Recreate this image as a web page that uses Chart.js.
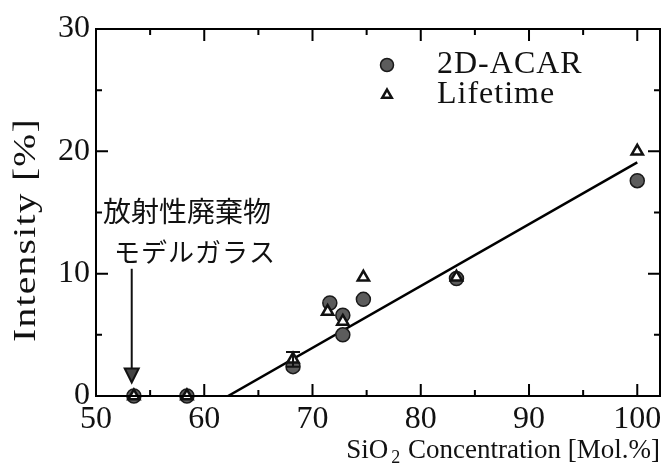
<!DOCTYPE html>
<html><head><meta charset="utf-8">
<script src="https://cdn.jsdelivr.net/npm/chart.js@4/dist/chart.umd.min.js"></script>
<style>html,body{margin:0;padding:0;background:#fff;}#wrap{width:669px;height:469px;position:relative;}</style>
</head><body><div id="wrap"><canvas id="c" width="669" height="469"></canvas></div>
<script>
// ---- data ----
const acarX = [53.5, 58.4, 68.2, 71.6, 72.8, 72.8, 74.7, 83.3, 100];
const acarY = [0, 0, 2.4, 7.6, 6.6, 5.0, 7.9, 9.6, 17.6];
const lifeX = [53.5, 58.4, 68.2, 71.4, 72.8, 74.7, 83.3, 100];
const lifeY = [0, 0, 3.0, 6.9, 6.1, 9.7, 9.7, 20.0];
const errX = [68.2];
const errLow = [2.4];
const errHigh = [3.6];
const fitX = [62.2, 100];
const fitY = [0, 19.1];
const arrowX = 53.3;
const arrowFrom = 10.4;
const arrowTo = 1.1;
const xTickLabels = [50, 60, 70, 80, 90, 100];
const xMinorTicks = [55, 65, 75, 85, 95];
const yTickLabels = [0, 10, 20, 30];
const yMinorTicks = [5, 15, 25];
const seriesNames = ['2D-ACAR', 'Lifetime'];
const noteLines = ['放射性廃棄物', 'モデルガラス'];
const xTitle = ['SiO', '2', ' Concentration [Mol.%]'];
const yTitle = 'Intensity [%]';

const serif = '"Liberation Serif", "Times New Roman", serif';
const pts = (xs, ys) => xs.map((x, i) => ({x, y: ys[i]}));

const decor = {
  id: 'decor',
  afterDatasetsDraw(chart) {
    const ctx = chart.ctx, a = chart.chartArea;
    const xs = chart.scales.x, ys = chart.scales.y;
    ctx.save();
    // error bars
    ctx.strokeStyle = '#111'; ctx.lineWidth = 2;
    errX.forEach((x, i) => {
      const px = xs.getPixelForValue(x);
      const p1 = ys.getPixelForValue(errLow[i]), p2 = ys.getPixelForValue(errHigh[i]);
      ctx.beginPath();
      ctx.moveTo(px, p1); ctx.lineTo(px, p2);
      ctx.moveTo(px - 7, p2); ctx.lineTo(px + 7, p2);
      ctx.moveTo(px - 7, p1); ctx.lineTo(px + 7, p1);
      ctx.stroke();
    });
    // arrow
    const ax = xs.getPixelForValue(arrowX);
    const ay1 = ys.getPixelForValue(arrowFrom), ay2 = ys.getPixelForValue(arrowTo);
    ctx.lineWidth = 2;
    ctx.beginPath(); ctx.moveTo(ax, ay1); ctx.lineTo(ax, ay2 - 12); ctx.stroke();
    ctx.fillStyle = '#444';
    ctx.beginPath(); ctx.moveTo(ax - 7, ay2 - 14); ctx.lineTo(ax + 7, ay2 - 14); ctx.lineTo(ax, ay2); ctx.closePath();
    ctx.fill(); ctx.stroke();
    // frame
    ctx.strokeStyle = '#000'; ctx.lineWidth = 2;
    ctx.strokeRect(a.left, a.top, a.right - a.left, a.bottom - a.top);
    // inward ticks
    ctx.lineWidth = 2;
    const tick = (v, len, axis) => {
      ctx.beginPath();
      if (axis === 'x') {
        const p = xs.getPixelForValue(v);
        ctx.moveTo(p, a.bottom); ctx.lineTo(p, a.bottom - len);
        ctx.moveTo(p, a.top); ctx.lineTo(p, a.top + len);
      } else {
        const p = ys.getPixelForValue(v);
        ctx.moveTo(a.left, p); ctx.lineTo(a.left + len, p);
        ctx.moveTo(a.right, p); ctx.lineTo(a.right - len, p);
      }
      ctx.stroke();
    };
    xTickLabels.forEach(v => tick(v, 12, 'x'));
    xMinorTicks.forEach(v => tick(v, 6, 'x'));
    yTickLabels.forEach(v => tick(v, 12, 'y'));
    yMinorTicks.forEach(v => tick(v, 6, 'y'));
    // legend
    const ds = chart.data.datasets;
    const lx = 387, ly = [65, 95];
    [0, 1].forEach(i => {
      const d = ds[i];
      ctx.fillStyle = d.backgroundColor; ctx.strokeStyle = d.borderColor; ctx.lineWidth = d.borderWidth;
      Chart.helpers.drawPoint(ctx, {pointStyle: d.pointStyle, radius: i === 0 ? 6.5 : 5.5, borderWidth: d.borderWidth}, lx, ly[i]);
      ctx.fillStyle = '#111';
      ctx.font = '32px ' + serif;
      ctx.letterSpacing = '1px';
      ctx.textBaseline = 'middle'; ctx.textAlign = 'left';
      ctx.fillText(seriesNames[i], 437, ly[i]);
      ctx.letterSpacing = '0px';
    });
    // Japanese note
    ctx.fillStyle = '#111';
    ctx.font = '28px "Noto Sans CJK JP"';
    ctx.textAlign = 'left'; ctx.textBaseline = 'middle';
    ctx.fillText(noteLines[0], 103, 211);
    ctx.font = '26px "Noto Sans CJK JP"';
    ctx.letterSpacing = '1px';
    ctx.fillText(noteLines[1], 114, 252);
    ctx.letterSpacing = '0px';
    // axis titles
    ctx.font = '27px ' + serif;
    ctx.textBaseline = 'alphabetic'; ctx.textAlign = 'left';
    const w0 = ctx.measureText(xTitle[0]).width;
    ctx.font = '18px ' + serif;
    const w1 = ctx.measureText(xTitle[1]).width;
    ctx.font = '27px ' + serif;
    const w2 = ctx.measureText(xTitle[2]).width;
    let tx = a.right - (w0 + w1 + 4 + w2);
    const base = 458;
    ctx.fillText(xTitle[0], tx, base); tx += w0 + 3;
    ctx.font = '18px ' + serif; ctx.fillText(xTitle[1], tx, base + 5); tx += w1 + 1;
    ctx.font = '27px ' + serif; ctx.fillText(xTitle[2], tx, base);
    ctx.save();
    ctx.translate(27, 230);
    ctx.rotate(-Math.PI / 2);
    ctx.font = '31px ' + serif;
    ctx.letterSpacing = '1px';
    const tw = ctx.measureText(yTitle).width;
    ctx.scale(224 / tw, 1);
    ctx.textAlign = 'center'; ctx.textBaseline = 'middle';
    ctx.fillText(yTitle, 0, 0);
    ctx.letterSpacing = '0px';
    ctx.restore();
    ctx.restore();
  }
};

new Chart(document.getElementById('c'), {
  type: 'scatter',
  data: {
    datasets: [
      {label: seriesNames[0], data: pts(acarX, acarY), pointStyle: 'circle', pointRadius: 7, clip: false,
       backgroundColor: '#5c5c5c', borderColor: '#1a1a1a', borderWidth: 1.5, order: 2},
      {label: seriesNames[1], data: pts(lifeX, lifeY), pointStyle: 'triangle', pointRadius: 6.5, clip: false,
       backgroundColor: '#ffffff', borderColor: '#111111', borderWidth: 2.5, order: 1},
      {label: 'fit', type: 'line', data: pts(fitX, fitY), borderColor: '#000', borderWidth: 2.5,
       pointRadius: 0, fill: false, tension: 0, order: 3}
    ]
  },
  options: {
    responsive: false, animation: false,
    layout: {padding: {left: 0, right: 9, top: 29, bottom: 0}},
    plugins: {legend: {display: false}, tooltip: {enabled: false}},
    scales: {
      x: {type: 'linear', min: 50, max: 102.1,
          afterBuildTicks: s => { s.ticks = xTickLabels.map(v => ({value: v})); },
          afterFit: s => { s.height = 73; },
          grid: {display: false, drawTicks: false}, border: {display: false},
          ticks: {color: '#111', font: {family: serif, size: 32}, padding: 4, maxRotation: 0, autoSkip: false}},
      y: {type: 'linear', min: 0, max: 30,
          afterBuildTicks: s => { s.ticks = yTickLabels.map(v => ({value: v})); },
          afterFit: s => { s.width = 96; },
          grid: {display: false, drawTicks: false}, border: {display: false},
          ticks: {color: '#111', font: {family: serif, size: 32}, padding: 6, autoSkip: false}}
    }
  },
  plugins: [decor]
});
</script></body></html>
